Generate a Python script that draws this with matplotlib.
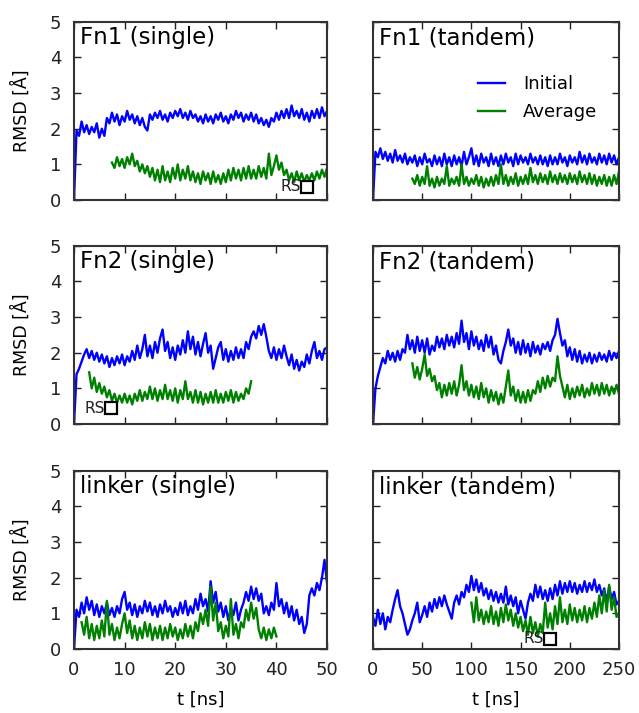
import numpy as np
import matplotlib
matplotlib.use('Agg')
import matplotlib.pyplot as plt

# RMSD time series (values in Angstrom)
# left column: t in ns, 0..50 (step 0.5); right column: 0..250 (step 2.5)

fn1_single_init = [0.0, 1.95, 1.8, 2.2, 1.9, 2.1, 1.85, 2.05, 1.9, 2.15, 1.75, 2.0, 1.8, 2.3, 2.15, 2.45,
                   2.2, 2.4, 2.1, 2.35, 2.2, 2.5, 2.25, 2.4, 2.15, 2.35, 2.1, 2.3, 2.05, 1.95, 2.4, 2.25,
                   2.45, 2.3, 2.5, 2.25, 2.4, 2.2, 2.45, 2.3, 2.5, 2.35, 2.55, 2.3, 2.45, 2.25, 2.5, 2.3,
                   2.4, 2.2, 2.35, 2.15, 2.4, 2.2, 2.35, 2.15, 2.4, 2.25, 2.45, 2.2, 2.35, 2.15, 2.4, 2.25,
                   2.5, 2.3, 2.45, 2.2, 2.4, 2.25, 2.45, 2.2, 2.4, 2.15, 2.3, 2.1, 2.25, 2.05, 2.3, 2.2,
                   2.45, 2.25, 2.5, 2.3, 2.55, 2.3, 2.65, 2.35, 2.5, 2.3, 2.55, 2.25, 2.45, 2.2, 2.5, 2.3,
                   2.55, 2.3, 2.6, 2.35, 2.5]
fn1_single_avg = [1.05, 0.9, 1.2, 0.95, 1.15, 0.9, 1.2, 1.0, 1.3, 0.95, 1.1, 0.8, 1.0, 0.75, 0.95, 0.65,
                  0.9, 0.55, 0.85, 0.5, 0.95, 0.55, 0.8, 0.5, 0.9, 0.6, 1.0, 0.55, 0.85, 0.6, 0.95, 0.55,
                  0.8, 0.5, 0.75, 0.45, 0.8, 0.55, 0.75, 0.45, 0.8, 0.5, 0.7, 0.45, 0.75, 0.5, 0.85, 0.55,
                  0.9, 0.6, 0.85, 0.55, 0.9, 0.6, 0.95, 0.6, 0.85, 0.6, 0.95, 0.65, 0.9, 0.6, 1.3, 0.7,
                  0.95, 1.25, 0.85, 1.05, 0.7, 0.85, 0.55, 0.75, 0.5, 0.8, 0.55, 0.75, 0.5, 0.7, 0.55, 0.75,
                  0.55, 0.8, 0.6, 0.85, 0.65, 0.9]

fn1_tandem_init = [0.0, 1.35, 1.2, 1.45, 1.15, 1.35, 1.1, 1.3, 1.05, 1.4, 1.1, 1.25, 1.05, 1.3, 1.0, 1.2,
                   1.05, 1.25, 0.95, 1.2, 1.0, 1.3, 1.05, 1.15, 0.95, 1.25, 1.0, 1.2, 0.95, 1.3, 1.0, 1.2,
                   0.95, 1.25, 1.0, 1.2, 0.95, 1.35, 1.0, 1.2, 1.45, 1.0, 1.25, 0.95, 1.3, 1.05, 1.2, 0.95,
                   1.3, 1.0, 1.2, 0.95, 1.25, 1.0, 1.3, 1.05, 1.2, 0.95, 1.3, 1.0, 1.25, 1.05, 1.2, 1.0,
                   1.3, 1.05, 1.2, 1.0, 1.25, 1.0, 1.2, 0.95, 1.25, 1.0, 1.2, 1.0, 1.3, 1.05, 1.2, 0.95,
                   1.25, 1.05, 1.2, 1.0, 1.35, 1.05, 1.25, 1.0, 1.3, 1.05, 1.2, 1.0, 1.3, 1.05, 1.25, 1.0,
                   1.3, 1.05, 1.25, 1.0, 1.2]
fn1_tandem_avg = [0.6, 0.45, 0.7, 0.4, 0.65, 0.45, 0.95, 0.4, 0.6, 0.35, 0.65, 0.4, 0.6, 0.45, 0.95, 0.4,
                  0.6, 0.45, 0.65, 0.4, 1.0, 0.45, 0.65, 0.4, 0.6, 0.45, 0.7, 0.4, 0.65, 0.35, 0.6, 0.4,
                  0.65, 0.4, 0.7, 0.45, 1.0, 0.45, 0.7, 0.4, 0.65, 0.45, 0.75, 0.4, 0.65, 0.45, 0.7, 0.45,
                  0.9, 0.5, 0.7, 0.45, 0.75, 0.5, 0.7, 0.45, 0.8, 0.5, 0.7, 0.45, 0.75, 0.5, 0.7, 0.45,
                  0.75, 0.5, 0.7, 0.45, 0.8, 0.5, 0.7, 0.45, 0.75, 0.45, 0.7, 0.4, 0.65, 0.45, 0.7, 0.4,
                  0.65, 0.4, 0.7, 0.45, 0.8]

fn2_single_init = [0.0, 1.4, 1.55, 1.75, 1.95, 2.1, 1.85, 2.05, 1.8, 2.0, 1.75, 1.95, 1.7, 1.9, 1.6, 1.85,
                   1.65, 1.9, 1.7, 1.95, 1.65, 1.9, 1.75, 2.05, 1.8, 2.2, 1.85, 2.1, 2.5, 1.9, 2.2, 1.85,
                   2.3, 2.0, 2.4, 2.65, 2.05, 2.3, 1.85, 2.15, 1.8, 2.2, 1.95, 2.35, 2.0, 2.6, 2.1, 2.45,
                   1.95, 2.3, 1.9, 2.25, 2.55, 2.0, 2.2, 1.55, 1.85, 2.15, 2.3, 1.8, 2.1, 1.75, 2.05, 1.8,
                   2.15, 1.85, 2.1, 1.85, 2.3, 2.1, 2.45, 2.6, 2.4, 2.75, 2.5, 2.8, 2.45, 2.05, 1.85, 2.15,
                   1.8, 2.1, 1.85, 2.2, 1.9, 1.65, 1.95, 1.55, 1.8, 1.5, 1.75, 1.6, 1.95, 1.7, 2.05, 2.3,
                   1.85, 2.05, 1.8, 2.1, 2.15]
fn2_single_avg = [1.45, 1.0, 1.3, 0.9, 1.15, 0.85, 1.05, 0.75, 0.95, 0.65, 0.85, 0.6, 0.8, 0.6, 0.85, 0.6,
                  0.8, 0.55, 0.85, 0.65, 0.95, 0.65, 0.9, 0.7, 1.05, 0.7, 1.0, 0.65, 0.95, 0.7, 1.1, 0.7,
                  0.95, 0.65, 1.0, 0.6, 0.95, 0.7, 1.2, 0.7, 0.9, 0.6, 0.95, 0.6, 0.9, 0.55, 0.85, 0.6,
                  0.9, 0.6, 0.95, 0.6, 0.85, 0.6, 0.9, 0.65, 0.95, 0.6, 0.9, 0.65, 0.85, 0.7, 1.0, 0.85,
                  1.2]

fn2_tandem_init = [0.0, 1.0, 1.35, 1.6, 1.85, 1.7, 2.05, 1.8, 2.0, 1.75, 2.05, 1.8, 2.1, 2.0, 2.5, 2.1,
                   2.35, 2.0, 2.45, 2.05, 2.35, 2.0, 2.4, 1.95, 2.2, 2.05, 2.45, 2.15, 2.4, 2.1, 2.5, 2.2,
                   2.45, 2.15, 2.55, 2.25, 2.9, 2.3, 2.55, 2.1, 2.6, 2.2, 2.45, 2.1, 2.35, 2.05, 2.5, 2.15,
                   2.45, 1.95, 2.2, 1.8, 1.7, 2.05, 2.3, 2.65, 2.2, 2.4, 2.0, 2.3, 1.95, 2.35, 2.0, 2.25,
                   1.9, 2.3, 2.0, 2.2, 1.95, 2.25, 2.1, 2.3, 2.05, 2.35, 2.5, 2.95, 2.55, 2.2, 2.35, 1.9,
                   2.15, 1.8, 2.1, 1.75, 2.05, 1.7, 1.95, 1.75, 2.0, 1.7, 1.95, 1.75, 2.0, 1.8, 1.95, 1.75,
                   2.05, 1.8, 2.0, 1.85, 2.05]
fn2_tandem_avg = [1.7, 1.3, 1.6, 1.25, 1.55, 1.95, 1.35, 1.55, 1.2, 1.35, 0.95, 1.15, 0.75, 1.1, 0.8, 1.15,
                  0.85, 1.2, 0.8, 1.1, 1.65, 0.95, 1.2, 0.8, 1.1, 0.75, 1.05, 0.7, 1.15, 0.75, 1.0, 0.6,
                  0.95, 0.65, 0.9, 0.55, 0.85, 0.6, 1.05, 1.5, 0.8, 1.05, 0.65, 0.95, 0.6, 0.9, 0.6, 0.95,
                  0.65, 0.95, 0.85, 1.2, 0.9, 1.3, 1.0, 1.35, 1.05, 1.3, 1.2, 1.9, 1.35, 1.05, 0.75, 1.1,
                  0.7, 1.0, 0.75, 1.05, 0.8, 1.1, 0.75, 1.0, 0.8, 1.15, 0.85, 1.1, 0.8, 1.15, 0.85, 1.1,
                  0.8, 1.05, 0.85, 1.1, 0.85]

linker_single_init = [0.0, 1.1, 0.9, 1.3, 1.0, 1.45, 1.1, 1.35, 0.95, 1.25, 0.9, 1.2, 1.0, 1.3, 0.95, 1.15,
                      0.9, 1.2, 1.0, 1.4, 1.6, 1.1, 1.3, 0.95, 1.25, 0.9, 1.2, 1.0, 1.35, 1.05, 1.3, 0.95,
                      1.2, 0.9, 1.25, 1.0, 1.35, 1.05, 1.2, 0.9, 1.15, 0.95, 1.3, 1.0, 1.35, 0.95, 1.2, 1.0,
                      1.4, 1.1, 1.55, 1.2, 1.4, 1.05, 1.9, 1.3, 1.6, 1.05, 1.3, 0.9, 1.2, 0.8, 1.15, 0.95,
                      1.3, 0.8, 1.1, 1.3, 1.6, 1.35, 1.75, 1.4, 1.7, 1.35, 1.55, 1.0, 1.2, 0.95, 1.3, 1.1,
                      1.85, 1.2, 1.4, 1.0, 1.3, 0.9, 1.2, 0.8, 1.1, 0.7, 0.9, 0.45, 0.7, 1.5, 1.7, 1.5,
                      1.85, 1.65, 2.0, 2.5, 1.85]
linker_single_avg = [0.75, 0.4, 0.9, 0.3, 0.7, 0.25, 0.65, 0.3, 0.8, 0.35, 1.35, 0.4, 0.7, 0.25, 0.6, 0.3,
                     0.7, 1.0, 0.45, 0.8, 0.3, 0.65, 0.25, 0.6, 0.3, 0.75, 0.35, 0.7, 0.25, 0.6, 0.3, 0.65,
                     0.25, 0.6, 0.3, 0.7, 0.35, 0.6, 0.25, 0.55, 0.3, 0.7, 0.35, 0.65, 0.3, 0.75, 0.5, 1.0,
                     0.7, 1.1, 0.65, 1.75, 0.8, 1.3, 0.5, 0.75, 0.3, 0.65, 0.35, 1.4, 0.4, 0.7, 0.3, 0.75,
                     0.6, 1.1, 0.8, 1.3, 0.85, 1.15, 0.55, 0.3, 0.6, 0.25, 0.55, 0.3, 0.6, 0.35]

linker_tandem_init = [0.9, 0.65, 1.1, 0.7, 1.0, 0.55, 0.9, 0.75, 1.1, 1.4, 1.65, 1.2, 1.0, 0.7, 0.4, 0.55,
                      0.8, 1.0, 1.3, 0.75, 0.95, 1.2, 0.9, 1.3, 1.05, 1.4, 1.15, 1.45, 1.2, 1.5, 1.25, 1.05,
                      0.85, 1.3, 1.5, 1.25, 1.6, 1.45, 1.8, 1.6, 2.05, 1.65, 1.95, 1.6, 1.85, 1.5, 1.7, 1.4,
                      1.65, 1.35, 1.6, 1.3, 1.55, 1.3, 1.75, 1.25, 1.5, 1.2, 1.45, 1.0, 1.35, 1.1, 0.85, 1.3,
                      1.55, 1.35, 1.8, 1.45, 1.75, 1.4, 1.65, 1.35, 1.7, 1.4, 1.8, 1.5, 1.9, 1.55, 1.85, 1.6,
                      1.9, 1.6, 1.85, 1.55, 1.8, 1.6, 1.9, 1.6, 1.85, 1.65, 1.95, 1.6, 1.8, 1.5, 1.7, 1.3,
                      1.75, 1.4, 1.6, 1.25, 1.35]
linker_tandem_avg = [1.3, 0.75, 1.45, 0.8, 1.1, 0.7, 1.05, 0.75, 1.2, 0.7, 1.05, 0.65, 1.15, 0.75, 1.25, 0.8,
                     1.1, 0.65, 1.0, 0.6, 0.9, 0.5, 0.8, 0.4, 0.9, 0.45, 0.75, 0.35, 0.7, 0.45, 1.3, 0.6,
                     1.0, 0.55, 1.2, 0.7, 1.45, 0.75, 1.1, 0.7, 1.25, 0.8, 1.15, 0.75, 1.1, 0.8, 1.2, 0.75,
                     1.15, 0.85, 1.3, 0.9, 1.5, 1.0, 1.65, 1.05, 1.8, 1.1, 1.45, 0.9, 1.0]

# (title, xmax, xticks, initial, initial span, average, average span, RS marker)
panels = [
    ('Fn1 (single)', 50, [0, 10, 20, 30, 40, 50], fn1_single_init, (0, 50), fn1_single_avg, (7.5, 50), (46.1, 0.37)),
    ('Fn1 (tandem)', 250, [0, 50, 100, 150, 200, 250], fn1_tandem_init, (0, 250), fn1_tandem_avg, (40, 250), None),
    ('Fn2 (single)', 50, [0, 10, 20, 30, 40, 50], fn2_single_init, (0, 50), fn2_single_avg, (3, 35), (7.4, 0.44)),
    ('Fn2 (tandem)', 250, [0, 50, 100, 150, 200, 250], fn2_tandem_init, (0, 250), fn2_tandem_avg, (40, 250), None),
    ('linker (single)', 50, [0, 10, 20, 30, 40, 50], linker_single_init, (0, 50), linker_single_avg, (1.5, 40), None),
    ('linker (tandem)', 250, [0, 50, 100, 150, 200, 250], linker_tandem_init, (0, 250), linker_tandem_avg, (100, 250), (180, 0.28)),
]

fig = plt.figure(figsize=(6.39, 7.13), dpi=100)

# axes boxes in figure fractions (left, bottom, width, height)
col_x = [(0.1158, 0.396), (0.5837, 0.385)]
row_y = [0.7195, 0.4053, 0.0898]
row_h = 0.250

for k, (title, xmax, xticks, init, ispan, avg, aspan, rs) in enumerate(panels):
    r, c = k // 2, k % 2
    ax = fig.add_axes([col_x[c][0], row_y[r], col_x[c][1], row_h])

    t_i = np.linspace(ispan[0], ispan[1], len(init))
    t_a = np.linspace(aspan[0], aspan[1], len(avg))
    ax.plot(t_i, init, color='#0000ff', lw=1.7, label='Initial')
    ax.plot(t_a, avg, color='#008000', lw=1.7, label='Average')

    ax.set_xlim(0, xmax)
    ax.set_ylim(0, 5)
    ax.set_xticks(xticks)
    ax.set_yticks([0, 1, 2, 3, 4, 5])
    ax.tick_params(direction='in', top=True, right=True, length=5, width=1,
                   labelsize=13, pad=9, colors='#222222')
    for s in ax.spines.values():
        s.set_linewidth(1.5)
        s.set_color('#333333')

    if c == 1:
        ax.set_yticklabels([])
    else:
        ax.set_ylabel('RMSD [Å]', fontsize=12.5)
        ax.yaxis.set_label_coords(-0.17, 0.5)
    if r < 2:
        ax.set_xticklabels([])
    else:
        ax.set_xlabel('t [ns]', fontsize=13)
        ax.xaxis.set_label_coords(0.5, -0.235)

    ax.text(0.025, 0.975, title, transform=ax.transAxes, ha='left', va='top', fontsize=16.5)

    if rs is not None:
        ax.plot(rs[0], rs[1], 's', ms=8, mfc='white', mec='black', mew=1.6, zorder=5)
        ax.annotate('RS', rs, xytext=(-4.5, 0), textcoords='offset points',
                    ha='right', va='center', fontsize=11, color='#222222')

    if k == 1:
        ax.legend(loc='upper left', bbox_to_anchor=(0.427, 0.70), frameon=False, fontsize=13,
                  handlelength=1.5, handletextpad=1.0, labelspacing=0.55,
                  borderpad=0, borderaxespad=0)

plt.savefig('out.png', dpi=100)
